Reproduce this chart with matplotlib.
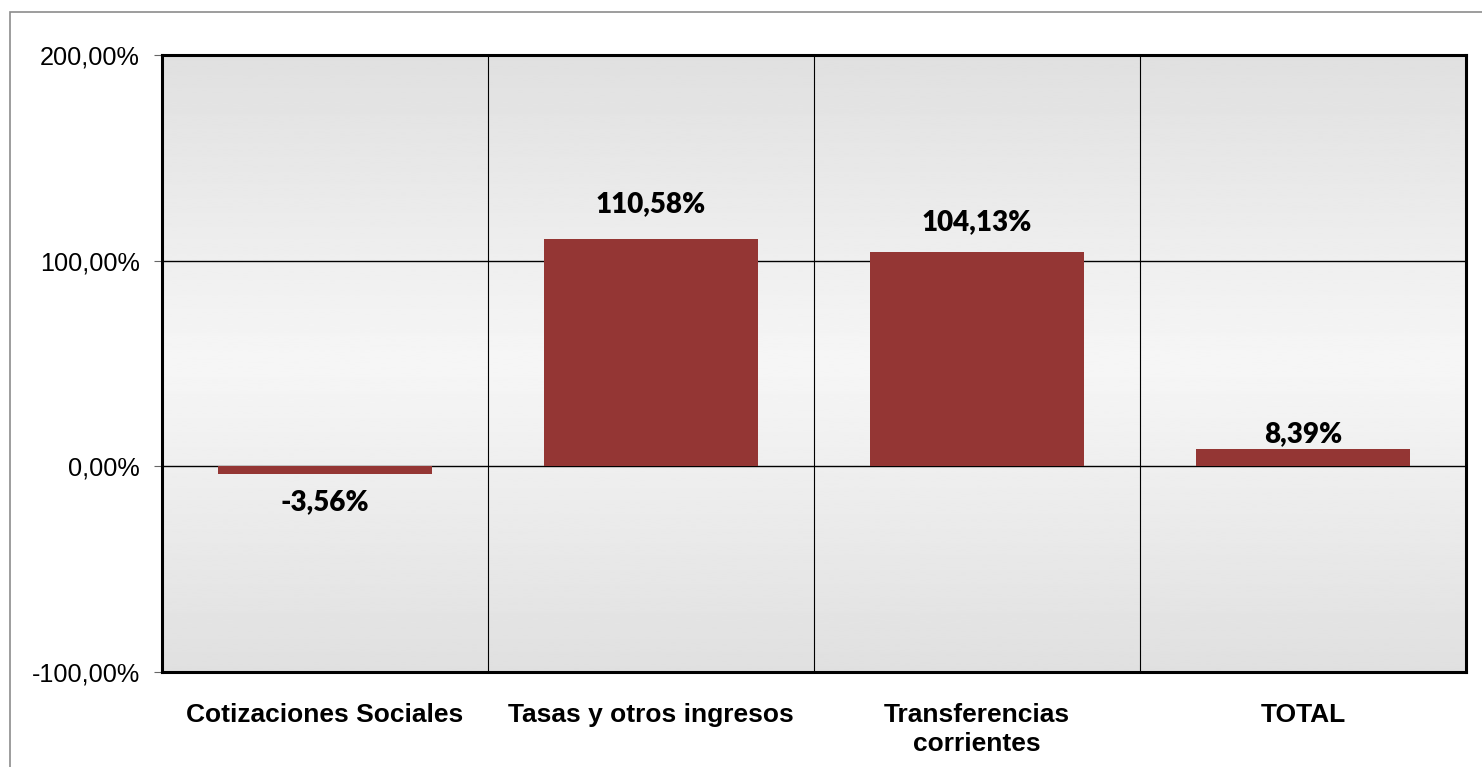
import numpy as np
import matplotlib
matplotlib.use("Agg")
import matplotlib.pyplot as plt
from matplotlib.patches import Rectangle
from matplotlib.ticker import FuncFormatter

# --- Daten ---
categorias = ["Cotizaciones Sociales", "Tasas y otros ingresos",
              "Transferencias\ncorrientes", "TOTAL"]
valores = [-3.56, 110.58, 104.13, 8.39]
etiquetas = ["-3,56%", "110,58%", "104,13%", "8,39%"]
y_ticks = [-100, 0, 100, 200]

# Abstand der Beschriftungen zur Balkenkante (Punkte)
abstand = [-11, 16, 12.5, 1.5]

color_barra = "#943634"

fig = plt.figure(figsize=(14.82, 7.67), dpi=100)
fig.patch.set_facecolor("white")

# Rahmen der Grafik (rechts und unten abgeschnitten)
fig.patches.append(Rectangle((10 / 1482, -0.1), 1.2, 1 - 12 / 767 + 0.1,
                             transform=fig.transFigure, fill=False,
                             edgecolor="#8c8c8c", linewidth=1.2))

ax = fig.add_axes([162 / 1482, 1 - 672 / 767, 1304 / 1482, 617 / 767])

# Hintergrund mit Farbverlauf (grau - hell - grau)
t = np.linspace(0, 1, 256)
g = 0.878 + (0.965 - 0.878) * (1 - np.abs(2 * t - 1))
ax.imshow(g.reshape(-1, 1), cmap="gray", vmin=0, vmax=1, aspect="auto",
          extent=[0, 1, 0, 1], transform=ax.transAxes, zorder=0,
          interpolation="bilinear")

x = np.arange(len(categorias))
ax.bar(x, valores, width=0.656, color=color_barra, zorder=3)

ax.set_xlim(-0.5, len(categorias) - 0.5)
ax.set_ylim(-100, 200)

# Gitterlinien
for yy in [0, 100]:
    ax.axhline(yy, color="black", linewidth=1.0, zorder=2)
for xx in [0.5, 1.5, 2.5]:
    ax.axvline(xx, color="black", linewidth=0.8, zorder=2)

ax.set_yticks(y_ticks)
ax.yaxis.set_major_formatter(FuncFormatter(lambda v, p: f"{v:.2f}%".replace(".", ",")))
ax.tick_params(axis="y", length=6, width=0.8, color="#666666", pad=10,
               labelsize=18.2)
for lab in ax.get_yticklabels():
    lab.set_fontfamily("Liberation Sans")

ax.set_xticks(x)
ax.set_xticklabels(categorias, fontsize=19, fontweight="bold",
                   family="Liberation Sans", linespacing=1.3, va="top")
ax.tick_params(axis="x", length=0, pad=22)

for sp in ax.spines.values():
    sp.set_linewidth(2.2)
    sp.set_color("black")
    sp.set_zorder(5)

# Datenbeschriftungen
for xi, v, lab, d in zip(x, valores, etiquetas, abstand):
    ax.annotate(lab, (xi, v), xytext=(0, d), textcoords="offset points",
                ha="center", va="bottom" if v >= 0 else "top",
                fontsize=20, fontweight="heavy", family="Lato", zorder=6)

fig.savefig("out.png", dpi=100)
